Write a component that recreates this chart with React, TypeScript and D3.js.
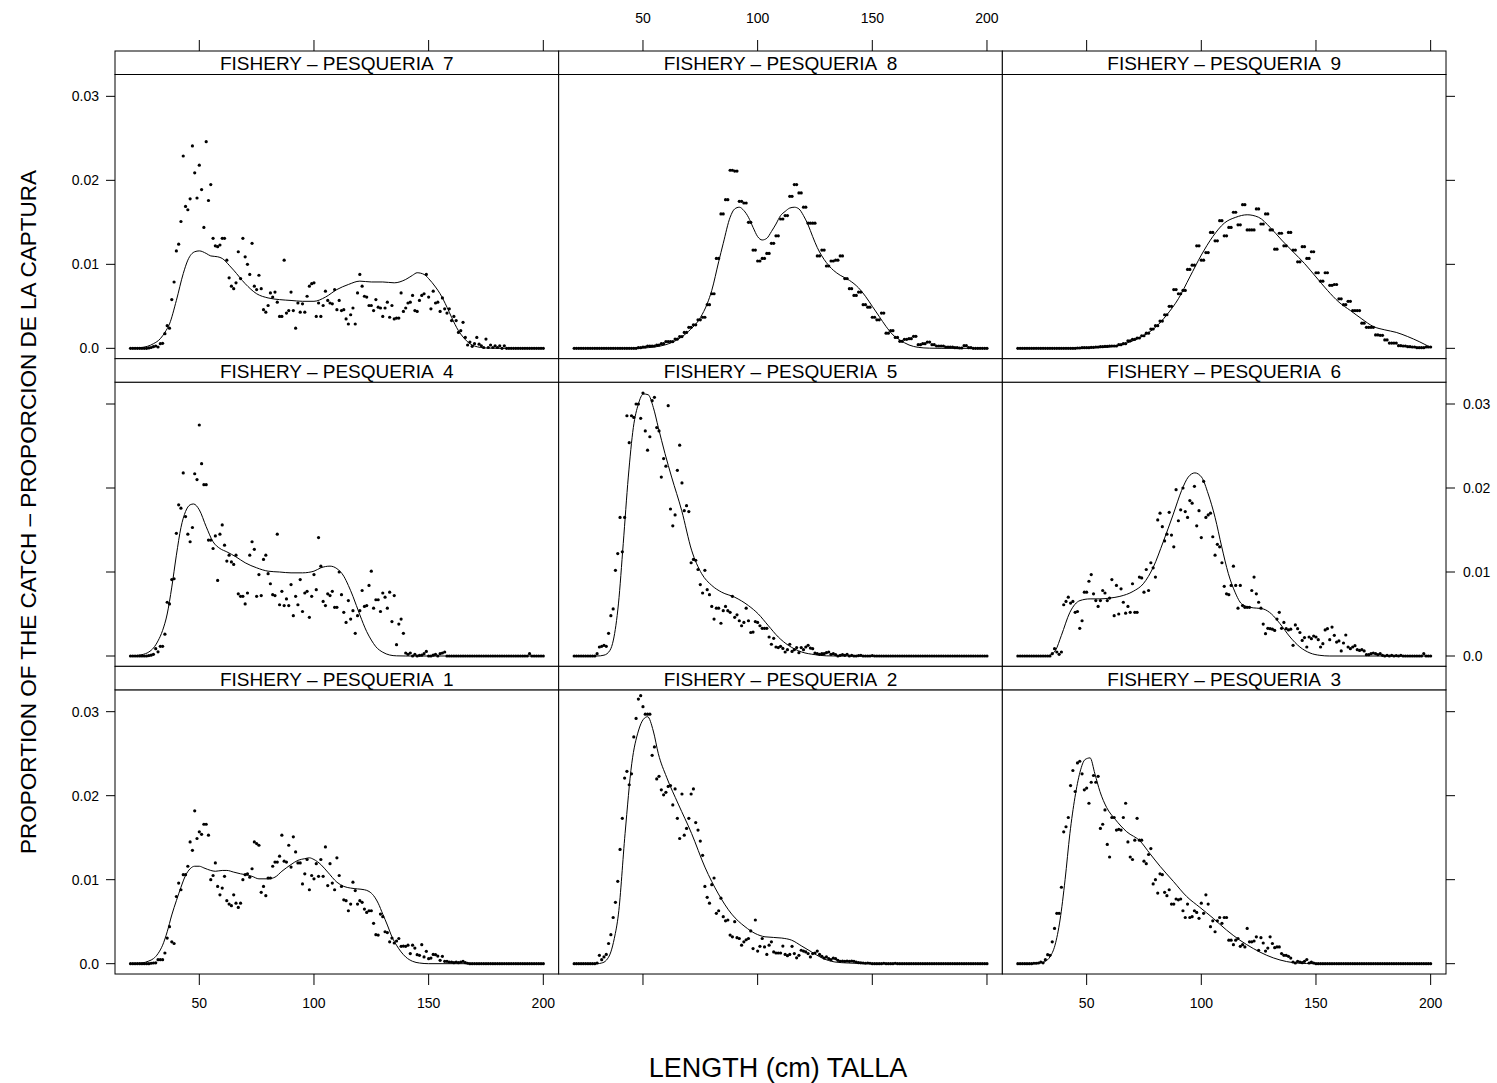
import React from "react";
import * as d3 from "d3";

// values are proportions in units of 0.001, one per 1-cm length class from 20 to 200 cm
const SCALE = 0.001;
const lengths = d3.range(20, 201);
const xTicks = [50, 100, 150, 200];
const yTicks = [0, 0.01, 0.02, 0.03];
const yTickLabels = ["0.0", "0.01", "0.02", "0.03"];
const stripPrefix = "FISHERY \u2013 PESQUERIA  ";
const layoutRows = [[7, 8, 9], [4, 5, 6], [1, 2, 3]];
const xTitle = "LENGTH (cm) TALLA";
const yTitle = "PROPORTION OF THE CATCH \u2013 PROPORCION DE LA CAPTURA";

const obs7 = [0,0,0,0,0,0,0,0,0.05,0.1,
 0.2,0.28,0.16,0.55,0.6,1.75,2.7,2.4,5.8,7.9,
 11.6,12.4,15.1,22.9,16.9,16.5,17.8,24.1,20.9,17.9,
 21.8,18.9,14.4,24.6,17.6,19.5,13.1,12.2,12.1,12.3,
 13.1,13.1,10.5,8.4,7.4,7.1,7.8,11.5,8.3,13.1,
 10.9,10.0,8.8,12.5,7.4,7.0,8.7,7.1,4.6,4.3,
 5.1,6.6,6.1,6.7,5.5,3.8,3.8,10.5,4.2,4.5,
 6.7,4.5,2.4,5.4,4.3,5.3,4.3,6.2,7.4,7.7,
 7.8,3.8,5.4,3.8,5.1,6.8,5.7,5.4,5.3,7.0,
 4.6,5.7,4.5,4.6,3.5,2.9,4.0,4.8,2.9,6.6,
 8.8,7.4,6.2,6.1,5.1,5.1,4.5,5.8,4.9,4.8,
 3.8,4.8,5.5,3.7,5.1,3.5,3.6,3.6,6.6,4.4,
 4.8,5.4,5.5,6.3,4.5,4.4,5.7,6.3,6.5,8.8,
 6.1,4.7,6.8,5.4,5.5,4.4,6.0,4.7,4.2,4.7,
 3.3,3.8,3.3,1.9,2.1,3.1,1.3,0.4,0.75,0.24,
 0.55,1.3,0.5,0.3,0.1,1.1,0.1,0.4,0.1,0.3,
 0.1,0.3,0,0.3,0,0,0,0,0,0,
 0,0,0,0,0,0,0,0,0,0,
 0];

const obs8 = [0,0,0,0,0,0,0,0,0,0,
 0,0,0,0,0,0,0,0,0,0,
 0,0,0,0,0,0,0,0,0.08,0.08,
 0.16,0.16,0.28,0.28,0.28,0.28,0.4,0.4,0.55,0.55,
 0.8,0.8,0.8,0.8,1.1,1.1,1.4,1.4,1.9,1.9,
 2.5,2.5,2.8,2.8,3.4,3.4,3.7,3.7,5.2,5.2,
 6.5,6.5,10.7,10.7,16.0,16.0,17.7,17.7,21.2,21.2,
 21.1,21.1,17.5,17.5,17.3,17.3,15.0,15.0,11.7,11.7,
 10.4,10.4,10.7,10.7,11.3,11.3,12.5,12.5,13.4,13.4,
 15.4,15.4,15.8,15.8,18.1,18.1,19.5,19.5,18.5,18.5,
 16.8,16.8,14.9,14.9,14.9,14.9,11.0,11.0,11.7,11.7,
 9.8,9.8,10.4,10.4,10.5,10.5,11.0,11.0,8.3,8.3,
 7.1,7.1,6.3,6.3,6.7,6.7,5.2,5.2,4.9,4.9,
 3.7,3.7,3.4,3.4,4.2,4.2,1.8,1.8,2.1,2.1,
 1.3,1.3,0.83,0.83,1.07,1.07,1.15,1.15,1.43,1.43,
 0.44,0.44,0.56,0.56,0.75,0.75,0.44,0.44,0.28,0.28,
 0.28,0.28,0.16,0.16,0.16,0.16,0.08,0.08,0.04,0.04,
 0.32,0.32,0.08,0.08,0,0,0,0,0,0,
 0];

const obs9 = [0,0,0,0,0,0,0,0,0,0,
 0,0,0,0,0,0,0,0,0,0,
 0,0,0,0,0,0,0.04,0.04,0.08,0.08,
 0.08,0.08,0.12,0.12,0.16,0.16,0.2,0.2,0.24,0.24,
 0.28,0.28,0.28,0.28,0.44,0.44,0.55,0.55,0.9,0.9,
 1.07,1.07,1.23,1.23,1.5,1.5,1.8,1.8,2.3,2.3,
 2.7,2.7,3.25,3.25,4.0,4.0,5.0,5.0,7.0,7.0,
 6.5,6.5,6.9,6.9,9.4,9.4,9.9,9.9,12.2,12.2,
 10.5,10.5,11.4,11.4,13.8,13.8,12.8,12.8,15.2,15.2,
 13.4,13.4,14.4,14.4,16.2,16.2,14.7,14.7,17.1,17.1,
 14.1,14.1,14.1,14.1,16.6,16.6,14.8,14.8,16.0,16.0,
 14.1,14.1,11.8,11.8,13.7,13.7,12.2,12.2,13.8,13.8,
 11.7,11.7,10.3,10.3,12.1,12.1,10.7,10.7,11.5,11.5,
 9.0,9.0,8.0,8.0,9.0,9.0,7.5,7.5,7.6,7.6,
 5.9,5.9,5.2,5.2,5.6,5.6,4.5,4.5,4.5,4.5,
 3.0,3.0,2.5,2.5,2.5,2.5,1.6,1.6,1.55,1.55,
 1.0,1.0,0.63,0.63,0.63,0.63,0.32,0.32,0.28,0.28,
 0.2,0.2,0.16,0.16,0.08,0.08,0.08,0.08,0.16,0.16,
 0.16];

const obs4 = [0,0,0,0,0,0,0,0,0.05,0.1,
 0.2,0.87,0.5,1.15,1.15,2.6,6.4,6.2,9.1,9.2,
 14.6,18.0,17.6,21.8,16.6,14.5,13.6,15.3,21.7,21.0,
 27.5,22.9,20.4,20.4,13.8,13.8,12.8,14.3,9.0,14.5,
 15.6,13.2,11.3,12.0,11.2,10.9,12.0,7.4,7.1,7.1,
 6.2,7.5,12.0,13.6,12.7,7.1,9.7,7.2,11.5,12.0,
 9.8,8.6,7.3,7.2,14.5,6.1,7.7,6.0,6.8,6.0,
 8.5,4.8,7.1,6.1,9.1,5.3,7.5,7.7,4.6,7.1,
 9.7,7.9,14.1,10.7,6.5,6.0,7.4,7.2,7.7,5.8,
 5.8,10.0,7.3,5.2,4.0,6.6,4.4,5.4,2.7,4.8,
 5.4,7.8,5.9,6.0,8.4,10.1,5.7,6.7,6.7,5.3,
 7.5,7.0,5.7,7.6,4.1,7.2,1.35,3.8,4.4,2.7,
 0.36,0.2,0.36,0,0.2,0,0.08,0.1,0.28,0.55,
 0,0,0.1,0.2,0,0.28,0.36,0.48,0,0,
 0,0,0,0,0,0,0,0,0,0,
 0,0,0,0,0,0,0,0,0,0,
 0,0,0,0,0,0,0,0,0,0,
 0,0,0,0,0.28,0,0,0,0,0,
 0];

const obs5 = [0,0,0,0,0,0,0,0,0,0,
 0.28,1.07,1.15,1.27,1.15,2.7,4.8,5.6,10.2,12.2,
 16.5,12.4,16.5,28.6,25.4,28.6,28.4,30.0,30.0,28.3,
 31.3,26.8,24.5,26.1,30.4,30.8,27.2,26.8,21.3,23.5,
 22.6,29.8,17.5,15.5,16.8,22.1,25.1,20.6,17.3,17.9,
 17.2,11.1,11.5,11.4,10.3,8.5,7.5,10.2,7.9,7.3,
 5.9,4.4,5.7,5.7,3.9,5.4,5.9,5.4,5.2,7.1,
 4.6,4.9,4.2,3.6,4.0,5.7,4.2,2.8,2.85,4.1,
 4.0,3.6,3.3,3.3,3.3,2.26,1.4,2.1,1.07,1.0,
 1.15,0.9,0.48,0.75,1.4,0.55,0.75,1.0,0.4,1.0,
 0.75,1.07,1.27,0.95,0.87,0.36,0.28,0.2,0.28,0.28,
 0.4,0.48,0.2,0.28,0.16,0,0.08,0.16,0.08,0.2,
 0,0.08,0,0,0.05,0.08,0,0,0,0,
 0.05,0,0,0,0,0,0,0,0,0,
 0,0,0,0,0,0,0,0,0,0,
 0,0,0,0,0,0,0,0,0,0,
 0,0,0,0,0,0,0,0,0,0,
 0,0,0,0,0,0,0,0,0,0,
 0];

const obs6 = [0,0,0,0,0,0,0,0,0,0,
 0,0,0,0,0,0.28,0.87,0.48,0.2,0.48,
 6.1,6.5,7.0,6.3,6.5,5.2,5.3,3.3,4.2,7.6,
 7.6,8.9,9.7,7.4,6.6,5.9,6.6,7.8,7.5,6.6,
 6.9,9.1,4.8,8.4,5.0,8.0,6.4,5.1,5.9,5.2,
 8.6,5.2,5.2,9.4,9.3,7.6,10.3,7.8,11.1,10.5,
 9.4,16.2,17.0,15.4,13.7,14.5,17.1,14.4,13.0,19.8,
 16.1,17.4,20.0,17.2,16.5,18.5,18.2,20.2,15.5,17.3,
 14.1,20.8,16.5,16.8,17.0,14.2,12.0,13.3,13.0,11.1,
 8.3,7.4,7.3,8.4,10.7,8.4,5.7,8.4,6.0,5.8,
 5.8,5.8,7.8,9.4,7.4,6.4,5.7,3.8,2.66,3.3,
 3.25,3.2,3.05,4.4,5.2,3.3,4.0,3.25,3.1,3.2,
 1.27,3.7,3.25,2.8,1.86,2.2,1.07,2.26,2.06,2.38,
 2.26,1.94,1.07,1.47,3.1,3.25,1.94,3.45,2.46,1.66,
 1.8,0.6,1.55,2.5,1.07,0.87,1.07,1.23,0.75,0.67,
 0.75,0.6,0.16,0.16,0.28,0.36,0.28,0.16,0.28,0.08,
 0,0.08,0,0.08,0,0.05,0,0.08,0,0,
 0,0,0,0,0,0,0,0.28,0,0,
 0];

const obs1 = [0,0,0,0,0,0,0,0,0,0.05,
 0.08,0.1,0.48,0.48,0.48,1.27,3.05,4.4,2.6,2.4,
 8.0,9.6,8.8,10.6,10.6,11.6,14.5,13.5,18.2,14.9,
 15.7,15.4,16.6,16.6,15.3,10.0,10.5,12.0,9.2,8.2,
 9.0,10.4,7.5,7.1,6.9,8.2,7.2,6.7,7.2,10.0,
 10.6,10.7,10.3,11.3,14.5,14.3,14.1,8.5,9.2,8.1,
 10.2,10.2,11.6,12.1,12.1,12.8,15.3,12.2,12.1,14.1,
 11.5,15.1,13.3,12.0,12.0,9.5,10.7,12.4,8.8,10.5,
 10.1,11.9,10.4,12.4,10.4,13.9,9.3,11.9,9.6,8.8,
 12.6,10.5,9.2,7.6,7.5,6.3,7.1,9.7,8.7,7.1,
 7.5,7.3,6.5,6.1,6.3,6.3,4.8,3.45,3.4,5.9,
 5.6,3.8,3.7,2.6,3.05,2.46,2.7,3.0,2.06,2.1,
 2.06,2.2,1.2,2.2,1.86,1.07,1.0,2.26,0.8,1.47,
 0.6,0.67,1.1,1.07,0.9,0.4,0.87,0.28,0.28,0.2,
 0.2,0.12,0.2,0.12,0.2,0.28,0.12,0.05,0,0,
 0,0,0,0,0,0,0,0,0,0,
 0,0,0,0,0,0,0,0,0,0,
 0,0,0,0,0,0,0,0,0,0,
 0];

const obs2 = [0,0,0,0,0,0,0,0,0,0,
 0.08,1.0,0.48,0.8,1.1,2.4,3.45,5.5,7.3,9.8,
 13.6,17.3,22.1,22.9,21.3,22.6,27.0,29.2,31.5,31.9,
 30.6,29.7,29.7,29.7,24.8,25.8,22.0,22.3,20.7,20.1,
 20.4,21.1,21.2,18.9,20.8,17.3,14.9,20.2,15.3,16.1,
 17.3,20.2,20.8,16.8,15.9,14.6,12.9,9.2,7.9,7.2,
 9.4,10.2,6.0,6.3,7.8,5.6,5.1,5.2,3.4,3.2,
 5.0,3.1,3.0,2.2,2.6,2.85,3.0,3.9,1.8,5.2,
 1.5,2.06,3.0,2.0,1.1,2.2,2.6,1.4,1.27,1.27,
 1.27,2.1,1.1,0.95,1.1,2.06,1.2,0.7,1.0,1.6,
 1.5,1.4,1.2,0.8,1.2,1.27,1.5,1.1,0.87,0.67,
 0.8,0.6,0.48,0.67,0.6,0.4,0.28,0.32,0.28,0.32,
 0.28,0.32,0.28,0.2,0.12,0.1,0.08,0.05,0.08,0.05,
 0,0,0,0,0,0.05,0,0,0,0,
 0.05,0,0,0,0,0,0,0,0,0,
 0,0,0,0,0,0,0,0,0,0,
 0,0,0,0,0,0,0,0,0,0,
 0,0,0,0,0,0,0,0,0,0,
 0];

const obs3 = [0,0,0,0,0,0,0,0.05,0.05,0.08,
 0.2,0.1,0.48,1.07,1.0,2.6,4.2,6.0,6.0,9.1,
 15.7,16.3,17.4,21.2,23.0,20.5,23.9,24.1,22.6,20.7,
 20.9,19.1,21.6,22.4,21.6,22.3,16.1,16.6,18.3,14.2,
 12.7,17.4,17.4,15.9,16.0,15.9,17.4,19.1,14.5,12.7,
 12.4,14.7,17.3,14.7,14.7,12.2,11.9,13.0,13.7,9.5,
 10.0,8.4,10.7,10.6,8.5,8.1,8.8,7.1,7.1,7.7,
 7.6,7.7,6.3,5.5,7.1,5.5,5.6,6.3,6.1,5.4,
 7.2,6.0,8.2,7.1,4.4,5.1,3.8,5.1,5.5,4.8,
 5.5,5.5,2.8,2.8,2.26,2.8,3.0,2.06,2.26,2.0,
 4.2,2.6,2.6,2.7,3.2,1.6,3.1,2.46,1.5,1.86,
 3.2,2.4,1.9,2.0,2.0,1.2,1.0,1.0,0.87,0.67,
 0.2,0.08,0.28,0.2,0.12,0.28,0.5,0.08,0.2,0.08,
 0,0,0,0,0,0,0,0,0,0,
 0,0,0,0,0,0,0,0,0,0,
 0,0,0,0,0,0,0,0,0,0,
 0,0,0,0,0,0,0,0,0,0,
 0,0,0,0,0,0,0,0,0,0,
 0];

// smoothed fits: [length, proportion x 0.001]
const fit7 = [[20,0],[25,0.1],[30,0.55],[33,1.15],[35,1.9],[37,2.9],[40,5.7],[43,8.9],[45,10.5],[48,11.5],[50,11.6],[53,11.3],[55,11.0],[58,10.9],[60,10.7],[63,9.9],[65,9.3],[70,7.7],[75,6.5],[80,6.0],[85,5.8],[90,5.7],[95,5.6],[100,5.6],[105,6.1],[110,7.0],[115,7.6],[120,8.0],[125,7.9],[130,7.9],[135,7.8],[140,8.2],[143,8.7],[145,9.0],[148,8.8],[150,8.3],[153,7.3],[155,6.5],[158,4.9],[160,3.7],[163,2.1],[165,1.35],[168,0.55],[170,0.28],[175,0.04],[180,0],[200,0]];
const fit8 = [[20,0],[45,0],[50,0.04],[55,0.16],[60,0.44],[65,1.03],[70,2.06],[75,3.65],[78,5.3],[80,6.9],[83,10.3],[85,12.5],[88,15.6],[90,16.6],[92,16.8],[94,16.4],[96,15.6],[98,14.4],[100,13.3],[102,12.9],[104,13.1],[106,13.9],[108,14.8],[110,15.8],[112,16.3],[114,16.7],[116,16.8],[118,16.6],[120,15.8],[122,14.7],[124,13.3],[126,12.0],[128,11.0],[130,10.2],[133,9.3],[136,8.7],[140,8.1],[144,7.2],[147,6.2],[150,5.0],[153,3.8],[156,2.6],[159,1.6],[162,1.0],[166,0.4],[170,0.12],[175,0.02],[180,0],[200,0]];
const fit9 = [[20,0],[40,0],[50,0.04],[55,0.08],[60,0.16],[65,0.44],[70,0.87],[75,1.55],[80,2.5],[85,4.0],[90,5.9],[95,8.5],[100,11.1],[105,13.3],[110,14.9],[115,15.6],[120,15.9],[125,15.6],[130,14.4],[135,12.9],[140,11.5],[145,10.1],[150,8.5],[155,6.9],[160,5.5],[165,4.5],[170,3.5],[175,2.6],[180,2.2],[185,1.9],[190,1.4],[195,0.8],[200,0.1]];
const fit4 = [[20,0],[25,0.16],[28,0.48],[30,0.95],[32,1.8],[34,3.05],[36,5.0],[38,8.2],[40,12.0],[42,15.3],[44,17.2],[46,18.0],[47.5,18.1],[50,17.4],[53,15.4],[56,13.6],[59,12.8],[62,12.4],[66,11.8],[70,11.1],[75,10.5],[80,10.1],[85,10.0],[90,9.9],[95,9.9],[100,10.1],[103,10.5],[107,10.7],[110,10.4],[113,9.5],[115,8.4],[117,7.1],[120,4.9],[123,2.9],[125,1.9],[127,1.1],[130,0.45],[133,0.12],[136,0.02],[140,0],[200,0]];
const fit5 = [[20,0],[30,0],[33,0.1],[35.6,0.67],[37.1,1.9],[39.3,6.2],[41.4,13.4],[43.6,21.3],[45.8,27.2],[48,30.0],[50.2,31.2],[52.3,31.1],[54.5,29.6],[56.7,27.2],[59.6,24.1],[62.5,21.3],[66.9,17.3],[71.2,12.6],[75.6,9.8],[80,8.4],[84.3,7.6],[90,7.0],[96,6.0],[100.3,5.0],[104.7,3.6],[109,2.26],[113.4,1.27],[119.2,0.48],[125,0.16],[130,0.02],[135,0],[200,0]];
const fit6 = [[20,0],[32,0],[34,0.1],[36.5,0.7],[39,2.46],[42.7,5.2],[47.1,6.6],[51.5,6.8],[55.8,6.8],[60.2,6.9],[64.5,7.1],[70.3,7.7],[74.7,8.6],[79.1,10.6],[83.4,13.6],[87.8,16.9],[91.4,19.7],[94.3,21.3],[97.2,21.8],[100.1,21.3],[103,19.3],[106,16.5],[108.9,13.0],[111.8,9.8],[114.7,7.6],[117.6,6.2],[121.2,5.8],[127,5.6],[130.6,5.0],[134.3,3.85],[138.7,2.26],[143,1.07],[147.4,0.36],[151.7,0.08],[156,0],[200,0]];
const fit1 = [[20,0],[25,0.08],[28,0.32],[30,0.6],[32,1.2],[34,2.2],[36,3.8],[38,5.8],[40,7.5],[42,9.1],[44,10.5],[46,11.3],[48,11.6],[50,11.6],[52,11.4],[55,11.1],[57,11.0],[60,11.1],[62,11.1],[65,10.9],[68,10.7],[70,10.6],[73,10.4],[76,10.1],[80,10.1],[83,10.3],[86,11.0],[90,11.8],[93,12.3],[96,12.5],[98,12.6],[100,12.4],[103,11.8],[106,10.9],[110,9.7],[113,9.2],[116,9.0],[119,8.9],[122,8.8],[124,8.6],[126,8.1],[128,7.2],[130,5.9],[132,4.6],[134,3.2],[136,2.2],[138,1.4],[140,0.8],[143,0.28],[146,0.08],[150,0],[200,0]];
const fit2 = [[20,0],[30,0],[32,0.08],[34,0.4],[36,1.4],[37.5,3.0],[39.3,5.9],[42.2,15.5],[45.1,23.8],[48,27.7],[50.2,29.1],[52,29.4],[54.5,27.7],[56.7,25],[60.3,22.2],[65.4,19.0],[71.2,15.5],[77,11.5],[82.9,8.3],[88.7,5.9],[94.5,4.4],[98.9,3.6],[103.2,3.2],[110.5,3.05],[114.8,2.8],[119.2,2.1],[123.5,1.4],[127.9,0.7],[133.7,0.2],[139.5,0.08],[150,0],[200,0]];
const fit3 = [[20,0],[28,0.02],[29.8,0.08],[32,0.28],[34,0.8],[36.2,2.2],[38.4,5.2],[40.6,10],[42.7,15.5],[44.9,19.8],[47.1,22.8],[49.3,24.3],[51.5,24.5],[53.6,22.6],[55.8,20.5],[58.7,18.6],[62.4,17.2],[67.5,15.7],[73.3,14.6],[77.6,13.1],[82,11.6],[87.8,9.8],[93.6,8.0],[99.4,6.7],[105.2,5.4],[111,4.0],[116.8,2.8],[122.7,1.8],[128.5,1.0],[134.3,0.44],[140.1,0.12],[145.9,0.02],[150,0],[200,0]];

const obsById: Record<number, number[]> = { 1: obs1, 2: obs2, 3: obs3, 4: obs4, 5: obs5, 6: obs6, 7: obs7, 8: obs8, 9: obs9 };
const fitById: Record<number, number[][]> = { 1: fit1, 2: fit2, 3: fit3, 4: fit4, 5: fit5, 6: fit6, 7: fit7, 8: fit8, 9: fit9 };

export default function App() {
  const W = 1497, H = 1083;
  const left = 115, colW = 443.67;
  const top = 51, rowH = 307.67, stripH = 23.5, panelH = rowH - stripH;
  const xDomain = [13.24, 206.7];
  const yDomain = [-0.00123, 0.0326];
  const font = "'Liberation Sans', Arial, Helvetica, sans-serif";
  const tickLenY = 9, tickLenX = 11;

  const panels: React.ReactNode[] = [];
  const axes: React.ReactNode[] = [];

  layoutRows.forEach((row, r) => {
    row.forEach((id, c) => {
      const x0 = left + c * colW;
      const sy = top + r * rowH;
      const py0 = sy + stripH;
      const py1 = py0 + panelH;
      const xs = d3.scaleLinear().domain(xDomain).range([x0, x0 + colW]);
      const ys = d3.scaleLinear().domain(yDomain).range([py1, py0]);
      const line = d3
        .line<number[]>()
        .x((d) => xs(d[0]))
        .y((d) => ys(d[1] * SCALE))
        .curve(d3.curveMonotoneX);
      const obs = obsById[id];
      panels.push(
        <g key={`p${id}`}>
          <rect x={x0} y={py0} width={colW} height={panelH} fill="#fff" stroke="none" />
          {obs.map((v, i) =>
            i < lengths.length ? (
              <circle key={i} cx={xs(lengths[i])} cy={ys(v * SCALE)} r={1.6} fill="#000" />
            ) : null
          )}
          <path d={line(fitById[id]) || ""} fill="none" stroke="#000" strokeWidth={1} />
          <rect x={x0} y={py0} width={colW} height={panelH} fill="none" stroke="#000" strokeWidth={1} />
          <rect x={x0} y={sy} width={colW} height={stripH} fill="#fff" stroke="#000" strokeWidth={1} />
          <text
            x={x0 + colW / 2}
            y={sy + 19.3}
            textAnchor="middle"
            fontFamily={font}
            fontSize={19}
            style={{ whiteSpace: "pre" }}
          >
            {stripPrefix + id}
          </text>
        </g>
      );

      // top axis (first row)
      if (r === 0) {
        xTicks.forEach((t) => {
          axes.push(
            <line key={`tt${c}-${t}`} x1={xs(t)} x2={xs(t)} y1={sy - tickLenX} y2={sy} stroke="#000" />
          );
          if (c === 1)
            axes.push(
              <text key={`tl${c}-${t}`} x={xs(t)} y={23} textAnchor="middle" fontFamily={font} fontSize={14}>
                {t}
              </text>
            );
        });
      }
      // bottom axis (last row)
      if (r === 2) {
        xTicks.forEach((t) => {
          axes.push(
            <line key={`bt${c}-${t}`} x1={xs(t)} x2={xs(t)} y1={py1} y2={py1 + tickLenX} stroke="#000" />
          );
          if (c !== 1)
            axes.push(
              <text key={`bl${c}-${t}`} x={xs(t)} y={1008} textAnchor="middle" fontFamily={font} fontSize={14}>
                {t}
              </text>
            );
        });
      }
      // left axis
      if (c === 0) {
        yTicks.forEach((t, k) => {
          axes.push(
            <line key={`lt${r}-${k}`} x1={x0 - tickLenY} x2={x0} y1={ys(t)} y2={ys(t)} stroke="#000" />
          );
          if (r !== 1)
            axes.push(
              <text key={`ll${r}-${k}`} x={99} y={ys(t) + 5} textAnchor="end" fontFamily={font} fontSize={14}>
                {yTickLabels[k]}
              </text>
            );
        });
      }
      // right axis
      if (c === 2) {
        yTicks.forEach((t, k) => {
          axes.push(
            <line key={`rt${r}-${k}`} x1={x0 + colW} x2={x0 + colW + tickLenY} y1={ys(t)} y2={ys(t)} stroke="#000" />
          );
          if (r === 1)
            axes.push(
              <text key={`rl${r}-${k}`} x={1463} y={ys(t) + 5} textAnchor="start" fontFamily={font} fontSize={14}>
                {yTickLabels[k]}
              </text>
            );
        });
      }
    });
  });

  return (
    <svg
      width={W}
      height={H}
      viewBox={`0 0 ${W} ${H}`}
      style={{ position: "absolute", left: 0, top: 0, background: "#fff" }}
    >
      <rect x={0} y={0} width={W} height={H} fill="#fff" />
      {panels}
      {axes}
      <text x={778} y={1077} textAnchor="middle" fontFamily={font} fontSize={27}>
        {xTitle}
      </text>
      <text
        transform="translate(36,512) rotate(-90)"
        textAnchor="middle"
        fontFamily={font}
        fontSize={22.5}
      >
        {yTitle}
      </text>
    </svg>
  );
}
